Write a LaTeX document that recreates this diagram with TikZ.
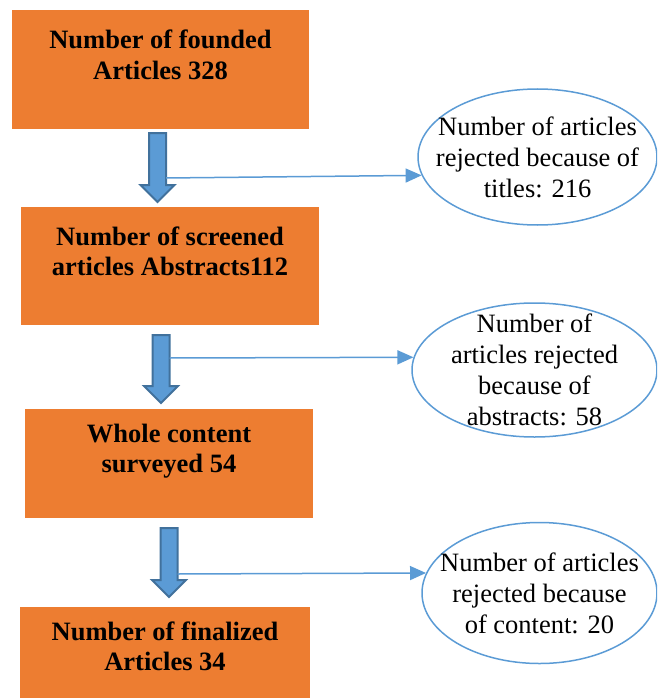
\documentclass[tikz,border=0pt]{standalone}
\usepackage{fontspec}
\setmainfont{Liberation Serif}
\usetikzlibrary{shapes.geometric,arrows.meta}
\definecolor{boxorange}{HTML}{ED7D31}
\definecolor{linkblue}{HTML}{5B9BD5}
\definecolor{edgeblue}{HTML}{41719C}

\begin{document}
\begin{tikzpicture}[
    x=1pt,y=-1pt,
    every node/.style={
      font=\fontsize{26.5}{31}\selectfont,
      align=center,
      inner sep=0pt,
    },
    stagebox/.style={
      fill=boxorange,
      font=\fontsize{26.5}{30.5}\selectfont\bfseries,
      text depth=30pt,
    },
    rejected/.style={
      draw=linkblue,
      line width=1.5pt,
      ellipse,
    },
    blockarrow/.style={fill=linkblue,draw=edgeblue,line width=2pt,line join=miter},
    link/.style={draw=linkblue,line width=1.5pt,-{Triangle[length=16pt,width=14pt]}},
  ]
  \clip (0,0) rectangle (657,698);
  % stages
  \node[stagebox,minimum width=297,minimum height=119] (stage1) at (160.5,69.5)
    {Number of founded\\Articles 328};
  \node[stagebox,minimum width=298,minimum height=118] (stage2) at (170,266)
    {Number of screened\\articles Abstracts112};
  \node[stagebox,minimum width=288,minimum height=109] (stage3) at (169,463.5)
    {Whole content\\surveyed 54};
  \node[stagebox,minimum width=290,minimum height=108] (stage4) at (165,661)
    {Number of finalized\\Articles 34};
  % rejections
  \node[rejected,minimum width=239,minimum height=136,
    label={center:{Number of articles\\rejected because of\\titles: 216}}] (rej1) at (537.5,157) {};
  \node[rejected,minimum width=245,minimum height=134,
    label={center:{Number of\\articles rejected\\because of\\abstracts: 58}}] (rej2) at (534.5,370) {};
  \node[rejected,minimum width=235,minimum height=141,
    label={center:{Number of articles\\rejected because\\of content: 20}}] (rej3) at (539.5,593) {};
  % block arrows and links
  \foreach \i/\x/\t/\b/\s/\a in {1/157.5/133/202/178/189,
                                2/161/335/403/358/174,
                                3/169/528/597/574/170}{
    \draw[blockarrow] (\x-8.5,\t) -- (\x+8.5,\t) -- (\x+8.5,\b-17) -- (\x+17,\b-17)
      -- (\x,\b) -- (\x-17,\b-17) -- (\x-8.5,\b-17) -- cycle;
    \coordinate (s\i) at (\x+8.5,\s);
    \path[link] (s\i) -- (rej\i.\a);
  }
\end{tikzpicture}
\end{document}
